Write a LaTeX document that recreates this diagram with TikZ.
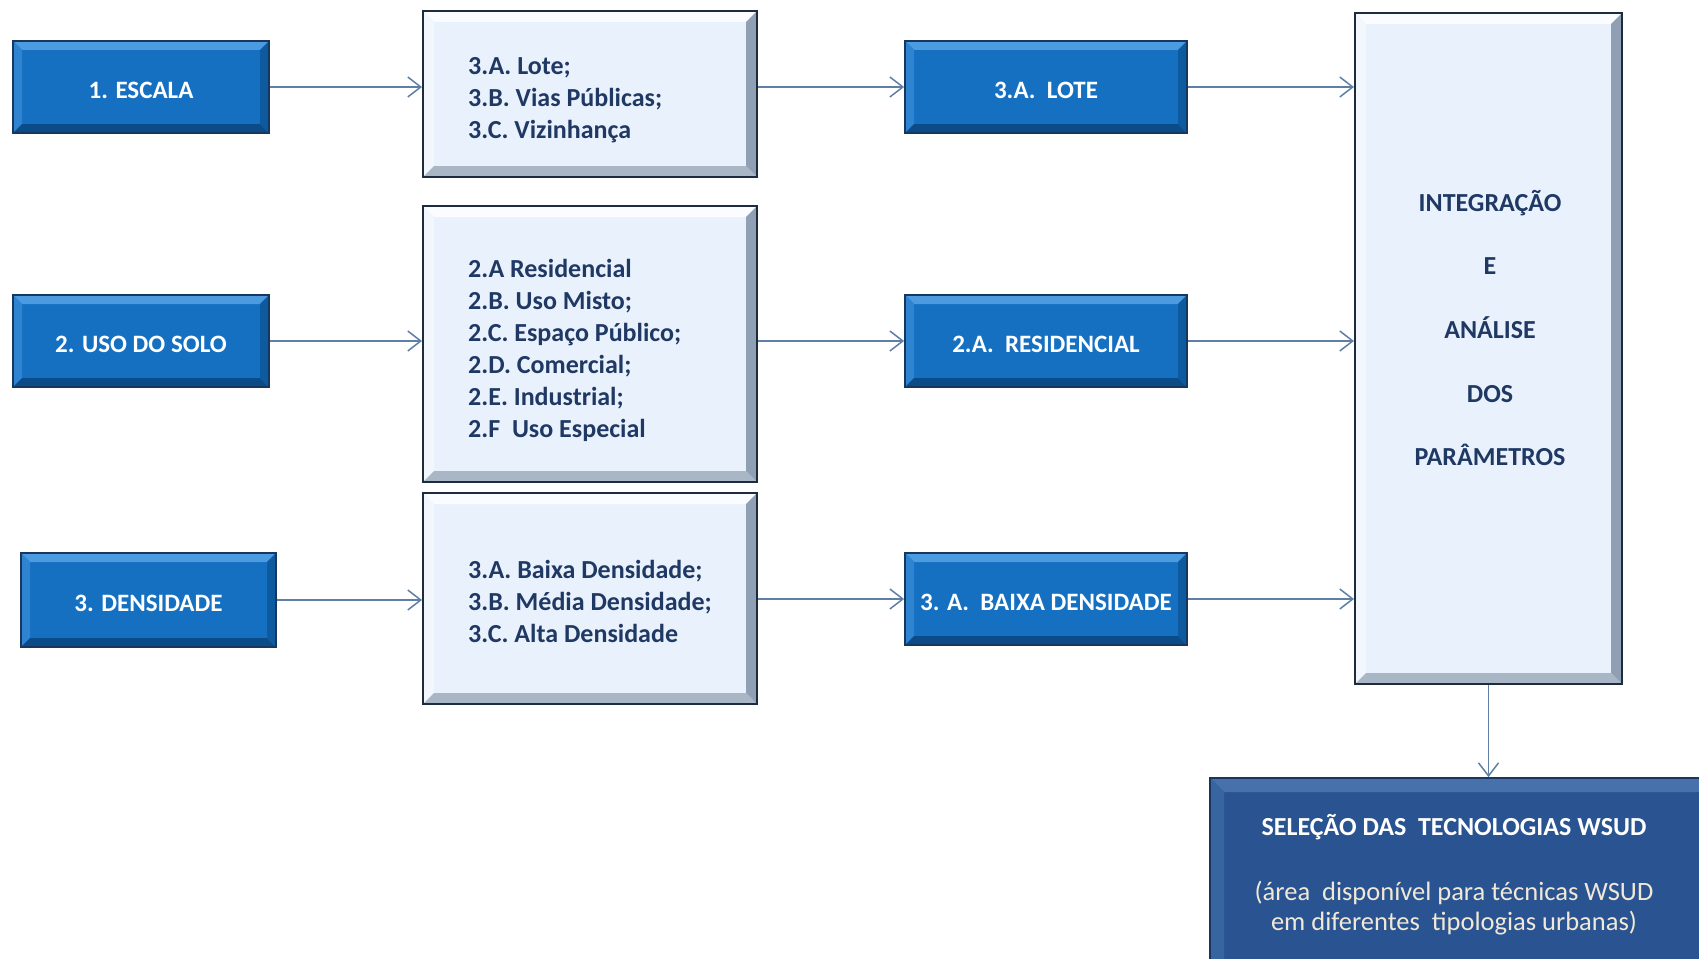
\documentclass[tikz,border=0pt]{standalone}
\usepackage{fontspec}
\setmainfont{Carlito}
\usetikzlibrary{arrows.meta,calc}
\definecolor{dkfill}{HTML}{1570C2}
\definecolor{dktop}{HTML}{4C9BE0}
\definecolor{dkleft}{HTML}{2E84D0}
\definecolor{dkbot}{HTML}{0B4C88}
\definecolor{dkright}{HTML}{0D5A9F}
\definecolor{dkborder}{HTML}{17375E}
\definecolor{ltfill}{HTML}{E9F2FC}
\definecolor{lttop}{HTML}{FAFCFF}
\definecolor{ltleft}{HTML}{F2F7FD}
\definecolor{ltbot}{HTML}{A9B6C6}
\definecolor{ltright}{HTML}{90A0B4}
\definecolor{ltborder}{HTML}{1E2B3C}
\definecolor{ltext}{HTML}{1F3864}
\definecolor{nvfill}{HTML}{295491}
\definecolor{nvtop}{HTML}{4671AB}
\definecolor{nvleft}{HTML}{3864A0}
\definecolor{nvbot}{HTML}{1C3D6E}
\definecolor{nvright}{HTML}{20477F}
\definecolor{nvborder}{HTML}{1B355E}
\definecolor{cream}{HTML}{F1E8D8}
\definecolor{arrowc}{HTML}{5F7FA6}
\tikzset{
  bevel/.style n args={5}{path picture={
    \coordinate (bvNW) at (path picture bounding box.north west);
    \coordinate (bvNE) at (path picture bounding box.north east);
    \coordinate (bvSW) at (path picture bounding box.south west);
    \coordinate (bvSE) at (path picture bounding box.south east);
    \fill[#1] (bvNW) -- (bvNE) -- ([shift={(-#5,-#5)}]bvNE) -- ([shift={(#5,-#5)}]bvNW) -- cycle;
    \fill[#2] (bvNW) -- ([shift={(#5,-#5)}]bvNW) -- ([shift={(#5,#5)}]bvSW) -- (bvSW) -- cycle;
    \fill[#3] (bvSW) -- (bvSE) -- ([shift={(-#5,#5)}]bvSE) -- ([shift={(#5,#5)}]bvSW) -- cycle;
    \fill[#4] (bvNE) -- (bvSE) -- ([shift={(-#5,#5)}]bvSE) -- ([shift={(-#5,-#5)}]bvNE) -- cycle;
  }},
  darkbox/.style={draw=dkborder, line width=1.8pt, fill=dkfill, text=white,
    font=\bfseries\fontsize{25}{30}\selectfont, inner sep=0pt,
    text height=22pt, text depth=0pt,
    bevel={dktop}{dkleft}{dkbot}{dkright}{9pt}},
  listbox/.style={draw=ltborder, line width=2pt, fill=ltfill, minimum width=334pt,
    bevel={lttop}{ltleft}{ltbot}{ltright}{11pt}},
  listtext/.style={anchor=west, inner sep=0pt, text=ltext, align=left,
    font=\bfseries\fontsize{26}{32}\selectfont},
  intbox/.style={draw=ltborder, line width=2pt, fill=ltfill,
    bevel={lttop}{ltleft}{ltbot}{ltright}{11pt}},
  inttext/.style={text=ltext, align=center, font=\bfseries\fontsize{26}{63.6}\selectfont},
  selbox/.style={draw=nvborder, line width=1.8pt, fill=nvfill,
    bevel={nvtop}{nvleft}{nvbot}{nvright}{14pt}},
  seltitle/.style={text=white, font=\bfseries\fontsize{26}{30}\selectfont},
  selbody/.style={text=cream, align=center, font=\fontsize{26.5}{30}\selectfont},
  arr/.style={draw=arrowc, line width=1.5pt, -{Straight Barb[length=13pt,width=20pt]}}
}
\begin{document}
\begin{tikzpicture}[x=1pt,y=-1pt]
\path[use as bounding box] (0,0) rectangle (1699,958);
\fill[white] (0,0) rectangle (1699,958);
\begin{scope}
\clip (0,0) rectangle (1699,958);
% left column
\node[darkbox, minimum width=256pt, minimum height=92pt] (esc) at (141,87) {1. ESCALA};
\node[darkbox, minimum width=256pt, minimum height=92pt] (uso) at (141,341) {2. USO DO SOLO};
\node[darkbox, minimum width=255pt, minimum height=94pt] (den) at (148.5,600) {3. DENSIDADE};
% list boxes
\node[listbox, minimum height=166pt] (la) at (590,94) {};
\node[listtext] (latext) at (468,100.5) {3.A. Lote;\\3.B. Vias Públicas;\\3.C. Vizinhança};
\node[listbox, minimum height=276pt] (lb) at (590,344) {};
\node[listtext] (lbtext) at (468,350) {2.A Residencial\\2.B. Uso Misto;\\2.C. Espaço Público;\\2.D. Comercial;\\2.E. Industrial;\\2.F\ \ Uso Especial};
\node[listbox, minimum height=211pt] (lc) at (590,598.5) {};
\node[listtext] (lctext) at (468,601) {3.A. Baixa Densidade;\\3.B. Média Densidade;\\3.C. Alta Densidade};
% selected
\node[darkbox, minimum width=282pt, minimum height=92pt] (lote) at (1046,87) {3.A.\ \ LOTE};
\node[darkbox, minimum width=282pt, minimum height=92pt] (res) at (1046,341) {2.A.\ \ RESIDENCIAL};
\node[darkbox, minimum width=282pt, minimum height=92pt] (baixa) at (1046,599) {3. A.\ \ BAIXA DENSIDADE};
% integration
\node[intbox, minimum width=267pt, minimum height=671pt] (int) at (1488.5,348.5) {};
\node[inttext] (intlab) at (1490,328) {INTEGRAÇÃO\\E\\ANÁLISE\\DOS\\PARÂMETROS};
% selection
\node[selbox, minimum width=510pt, minimum height=200pt] (sel) at (1465,878) {};
\node[seltitle] (seltit) at (1454,827) {SELEÇÃO DAS\ \ TECNOLOGIAS WSUD};
\node[selbody] (selbod) at (1454,908) {(área\ \ disponível para técnicas WSUD\\em diferentes\ \ tipologias urbanas)};
% connectors
\draw[arr] (esc.east) -- (esc.east -| la.west);
\draw[arr] (uso.east) -- (uso.east -| lb.west);
\draw[arr] (den.east) -- (den.east -| lc.west);
\draw[arr] (la.east |- lote.west) -- (lote.west);
\draw[arr] (lb.east |- res.west) -- (res.west);
\draw[arr] (lc.east |- baixa.west) -- (baixa.west);
\draw[arr] (lote.east) -- (lote.east -| int.west);
\draw[arr] (res.east) -- (res.east -| int.west);
\draw[arr] (baixa.east) -- (baixa.east -| int.west);
\draw[arr] (int.south) -- (int.south |- sel.north);
\end{scope}
\end{tikzpicture}
\end{document}
